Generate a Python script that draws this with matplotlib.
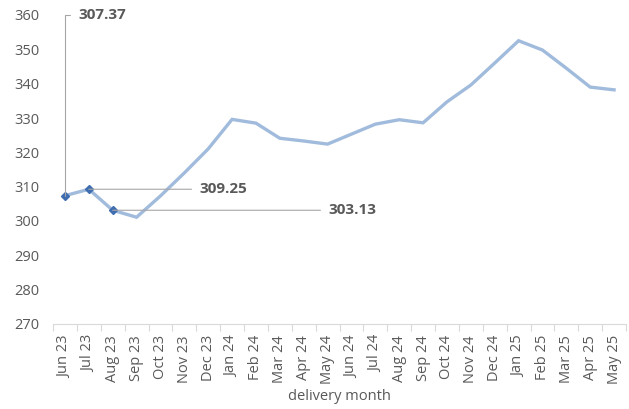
import matplotlib.pyplot as plt

months = ["Jun 23", "Jul 23", "Aug 23", "Sep 23", "Oct 23", "Nov 23", "Dec 23",
          "Jan 24", "Feb 24", "Mar 24", "Apr 24", "May 24", "Jun 24", "Jul 24",
          "Aug 24", "Sep 24", "Oct 24", "Nov 24", "Dec 24", "Jan 25", "Feb 25",
          "Mar 25", "Apr 25", "May 25"]
prices = [307.37, 309.25, 303.13, 301.1, 307.3, 314.0, 321.0, 329.6, 328.5,
          324.1, 323.3, 322.4, 325.3, 328.2, 329.5, 328.6, 334.7, 339.6, 346.0,
          352.5, 349.8, 344.5, 339.0, 338.2]
labelled = [0, 1, 2]

grey = "#595959"
plt.rcParams['font.family'] = ['Open Sans', 'DejaVu Sans']

fig = plt.figure(figsize=(6.29, 4.09), dpi=100)
ax = fig.add_axes([53 / 629, 85 / 409, 573 / 629, 309 / 409])

x = list(range(len(months)))
ax.plot(x, prices, color="#A1BBDD", lw=2.4, solid_joinstyle="miter", zorder=2)
ax.plot([x[i] for i in labelled], [prices[i] for i in labelled], ls="none",
        marker="D", ms=4.5, color="#3F6EB0", zorder=3)

label_x = [0.55, 5.65, 11.05]
label_y = [360, prices[1], prices[2]]
for i, lx, ly in zip(labelled, label_x, label_y):
    conn = "angle,angleA=0,angleB=90,rad=0" if i == 0 else "arc3,rad=0"
    ax.annotate(f"{prices[i]:.2f}", xy=(i, prices[i]), xytext=(lx, ly),
                textcoords="data", ha="left", va="center", fontsize=11,
                fontweight="bold", color=grey, annotation_clip=False,
                arrowprops=dict(arrowstyle="-", color="#A6A6A6", lw=0.8,
                                shrinkA=4, shrinkB=0, connectionstyle=conn))

ax.set_xlim(-0.5, len(months) - 0.5)
ax.set_ylim(270, 360)
ax.set_yticks(range(270, 361, 10))
ax.set_xticks(x)
ax.set_xticklabels(months, rotation=90, fontsize=10.5, color=grey)
ax.set_xticks([i - 0.5 for i in range(len(months) + 1)], minor=True)
ax.tick_params(axis="x", which="major", length=0, pad=8)
ax.tick_params(axis="x", which="minor", length=5, color="#D9D9D9", width=0.8)
ax.tick_params(axis="y", length=0, labelsize=10.5, colors=grey, pad=28)
for lab in ax.get_yticklabels():
    lab.set_horizontalalignment("left")

for s in ["top", "right", "left"]:
    ax.spines[s].set_visible(False)
ax.spines["bottom"].set_color("#D9D9D9")
ax.set_xlabel("delivery month", fontsize=10.5, color=grey, labelpad=3)

fig.savefig("out.png", dpi=100)
